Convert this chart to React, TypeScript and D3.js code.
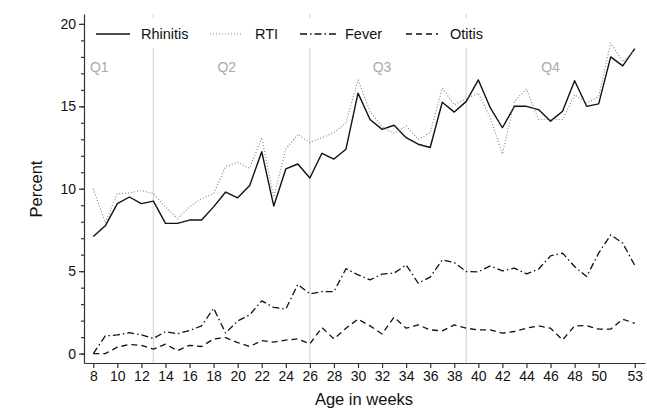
import * as d3 from "d3";
import React, { useEffect, useRef } from "react";

const weeks = d3.range(8, 54);

const rhinitis = [
  7.1, 7.75, 9.1, 9.5, 9.1, 9.25, 7.9, 7.9, 8.1, 8.1, 8.9, 9.8, 9.45, 10.2,
  12.25, 8.95, 11.2, 11.5, 10.65, 12.15, 11.8, 12.4, 15.8, 14.2, 13.6, 13.85,
  13.1, 12.7, 12.5, 15.25, 14.65, 15.3, 16.6, 14.9, 13.7, 15.0, 15.0, 14.8,
  14.1, 14.7, 16.55, 15.0, 15.15, 18.0, 17.45, 18.5,
];

const rti = [
  10.0, 7.95, 9.7, 9.75, 9.9, 9.7, 8.9, 8.2, 8.9, 9.4, 9.7, 11.35, 11.6, 11.25,
  13.1, 9.5, 12.4, 13.3, 12.8, 13.1, 13.4, 14.0, 16.6, 14.7, 13.75, 13.35,
  13.8, 13.0, 13.4, 16.1, 15.1, 15.45, 15.8, 14.3, 12.1, 15.3, 16.05, 14.2,
  14.2, 14.2, 15.7, 15.2, 15.6, 18.85, 17.7, 18.4,
];

const fever = [
  0.0, 1.07, 1.13, 1.27, 1.13, 0.92, 1.33, 1.2, 1.4, 1.68, 2.75, 1.25, 1.98,
  2.35, 3.2, 2.8, 2.7, 4.2, 3.62, 3.76, 3.76, 5.15, 4.78, 4.47, 4.82, 4.88,
  5.38, 4.27, 4.64, 5.69, 5.52, 4.98, 4.96, 5.32, 5.02, 5.18, 4.84, 5.12, 5.93,
  6.09, 5.28, 4.67, 6.1, 7.2, 6.7, 5.35,
];

const otitis = [
  0.0, 0.0, 0.39, 0.55, 0.5, 0.27, 0.57, 0.18, 0.5, 0.43, 0.89, 0.97, 0.67,
  0.43, 0.79, 0.7, 0.82, 0.89, 0.59, 1.58, 0.89, 1.54, 2.09, 1.68, 1.19, 2.21,
  1.54, 1.74, 1.44, 1.38, 1.74, 1.54, 1.44, 1.44, 1.24, 1.34, 1.54, 1.68, 1.54,
  0.83, 1.68, 1.7, 1.48, 1.48, 2.09, 1.84,
];

const xTicks = [8, 10, 12, 14, 16, 18, 20, 22, 24, 26, 28, 30, 32, 34, 36, 38, 40, 42, 44, 46, 48, 50, 53];
const yTicks = [0, 5, 10, 15, 20];
const quarterBreaks = [13, 26, 39];
const quarterLabels = ["Q1", "Q2", "Q3", "Q4"];
const quarterLabelWeeks = [8.5, 19.1, 32, 46];

const series = [
  { name: "Rhinitis", values: rhinitis, color: "#111", dash: "", width: 1.4 },
  { name: "RTI", values: rti, color: "#8a8a8a", dash: "1,2", width: 1.2 },
  { name: "Fever", values: fever, color: "#111", dash: "7,3,1.5,3", width: 1.3 },
  { name: "Otitis", values: otitis, color: "#111", dash: "6,4", width: 1.3 },
];

const legendPos = [
  { x1: 96, x2: 130, tx: 141 },
  { x1: 210, x2: 243, tx: 255 },
  { x1: 300, x2: 336, tx: 345 },
  { x1: 406, x2: 438, tx: 450 },
];

const W = 647;
const H = 409;
const FONT = "'Liberation Sans', Arial, Helvetica, sans-serif";

export default function App() {
  const ref = useRef<SVGSVGElement | null>(null);

  useEffect(() => {
    const svg = d3.select(ref.current);
    svg.selectAll("*").remove();

    const x = d3.scaleLinear().domain([7.23, 53.85]).range([84, 645]);
    const y = d3.scaleLinear().domain([-0.57, 20.6]).range([363, 14]);

    svg.append("rect").attr("width", W).attr("height", H).attr("fill", "#fff");

    // quarter separators
    svg
      .append("g")
      .selectAll("line")
      .data(quarterBreaks)
      .enter()
      .append("line")
      .attr("x1", (d) => x(d))
      .attr("x2", (d) => x(d))
      .attr("y1", y.range()[1])
      .attr("y2", y.range()[0])
      .attr("stroke", "#dcdcdc")
      .attr("stroke-width", 1.5);

    svg
      .append("g")
      .selectAll("text")
      .data(quarterLabels)
      .enter()
      .append("text")
      .attr("x", (_d, i) => x(quarterLabelWeeks[i]))
      .attr("y", 72)
      .attr("text-anchor", "middle")
      .attr("fill", "#aaa")
      .style("font-family", FONT)
      .style("font-size", "14px")
      .text((d) => d);

    // lines
    const line = d3
      .line<number>()
      .x((_d, i) => x(weeks[i]))
      .y((d) => y(d));

    series.forEach((s) => {
      svg
        .append("path")
        .datum(s.values)
        .attr("d", line)
        .attr("fill", "none")
        .attr("stroke", s.color)
        .attr("stroke-width", s.width)
        .attr("stroke-dasharray", s.dash || null)
        .attr("stroke-linejoin", "round");
    });

    // axes
    const xAxis = svg
      .append("g")
      .attr("transform", `translate(0,${y.range()[0]})`)
      .call(d3.axisBottom(x).tickValues(xTicks).tickSize(5).tickSizeOuter(0).tickPadding(3));

    const yMinor = svg
      .append("g")
      .attr("transform", `translate(${x.range()[0]},0)`)
      .call(d3.axisLeft(y).tickValues(d3.range(0, 21)).tickSize(3).tickFormat(() => ""));
    yMinor.select(".domain").remove();

    const yAxis = svg
      .append("g")
      .attr("transform", `translate(${x.range()[0]},0)`)
      .call(d3.axisLeft(y).tickValues(yTicks).tickSize(5).tickSizeOuter(0).tickPadding(3));

    [xAxis, yAxis, yMinor].forEach((g) => {
      g.selectAll("path,line").attr("stroke", "#333").attr("stroke-width", 1.2);
      g.selectAll("text")
        .attr("fill", "#111")
        .style("font-family", FONT)
        .style("font-size", "14px");
    });

    // axis titles
    svg
      .append("text")
      .attr("x", 364)
      .attr("y", 405)
      .attr("text-anchor", "middle")
      .style("font-family", FONT)
      .style("font-size", "16.5px")
      .attr("fill", "#111")
      .text("Age in weeks");

    svg
      .append("text")
      .attr("transform", `translate(42,189) rotate(-90)`)
      .attr("text-anchor", "middle")
      .style("font-family", FONT)
      .style("font-size", "16.5px")
      .attr("fill", "#111")
      .text("Percent");

    // legend
    const legend = svg.append("g");
    legend
      .append("rect")
      .attr("x", 88)
      .attr("y", 18)
      .attr("width", 420)
      .attr("height", 30)
      .attr("fill", "#fff");

    series.forEach((s, i) => {
      const p = legendPos[i];
      legend
        .append("line")
        .attr("x1", p.x1)
        .attr("x2", p.x2)
        .attr("y1", 34)
        .attr("y2", 34)
        .attr("stroke", s.color)
        .attr("stroke-width", s.width)
        .attr("stroke-dasharray", s.dash || null);
      legend
        .append("text")
        .attr("x", p.tx)
        .attr("y", 39)
        .attr("fill", "#111")
        .style("font-family", FONT)
        .style("font-size", "14.5px")
        .text(s.name);
    });
  }, []);

  return (
    <svg
      ref={ref}
      width={W}
      height={H}
      style={{ position: "absolute", left: 0, top: 0 }}
    />
  );
}
